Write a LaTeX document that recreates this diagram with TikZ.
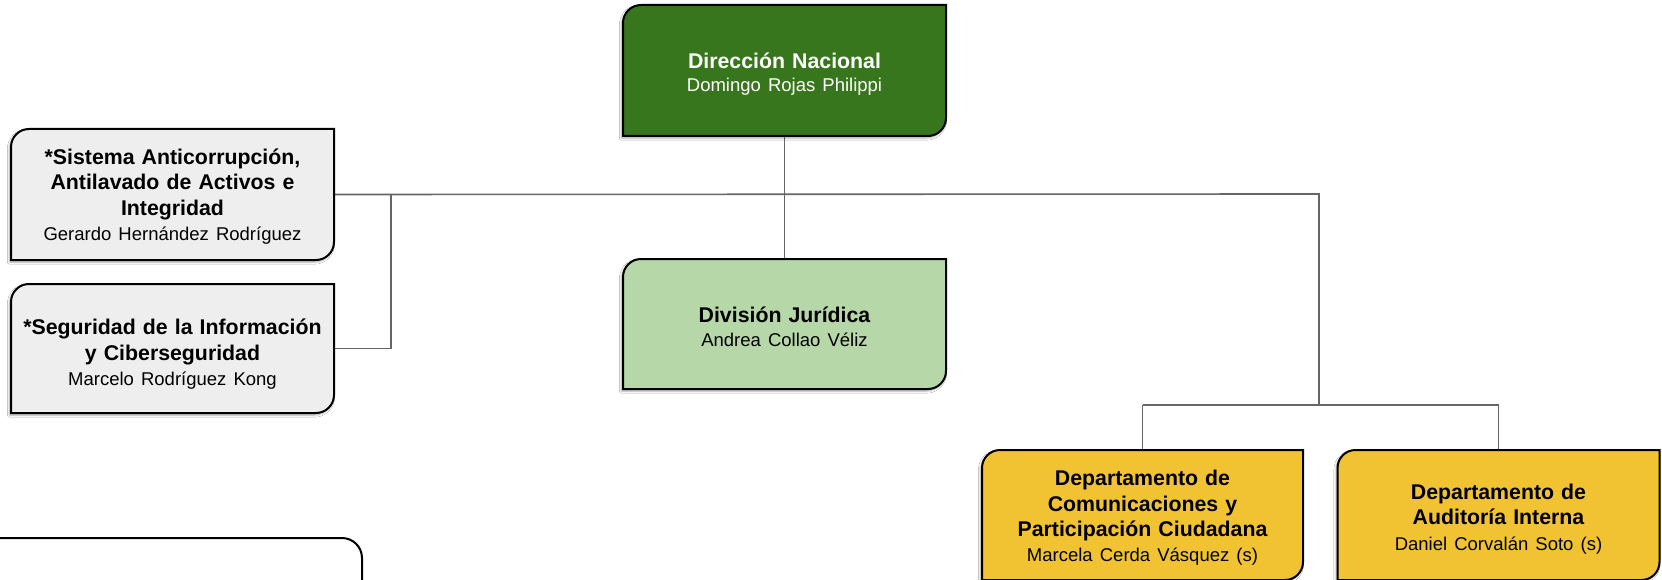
\documentclass[tikz,border=0pt]{standalone}
\usepackage{fontspec}
\setmainfont{Liberation Sans}
\usetikzlibrary{shadows.blur}
\definecolor{dngreen}{HTML}{38761D}
\definecolor{ltgreen}{HTML}{B6D7A8}
\definecolor{ltgrey}{HTML}{EEEEEE}
\definecolor{gold}{HTML}{F1C232}
\definecolor{linegrey}{HTML}{666666}
\newcommand\ttl[1]{{\bfseries #1}}
\newcommand\nme[1]{{\fontsize{18.5}{25}\selectfont #1}}
\newcommand\leafshape[3]{% node name, fill, radius
  \path[draw=black, line width=2pt, fill=#2,
        blur shadow={shadow xshift=-1.5pt, shadow yshift=-2pt, shadow blur steps=6, shadow opacity=35}]
    (#1.south west) -- ([yshift=-#3]#1.north west)
    arc[start angle=180, end angle=90, radius=#3]
    -- (#1.north east) -- ([yshift=#3]#1.south east)
    arc[start angle=0, end angle=-90, radius=#3] -- cycle;}
\begin{document}
\begin{tikzpicture}[x=1pt, y=1pt,
  orgbox/.style={inner sep=0pt, outer sep=0pt, minimum width=323pt, minimum height=130pt,
                 text width=310pt, align=center, font=\fontsize{21.3}{25.4}\selectfont},
  conn/.style={draw=linegrey, line width=1.6pt}]
\useasboundingbox (0,0) rectangle (1662,-580);
\fill[white] (0,0) rectangle (1662,-580);

% node placeholders (text drawn later on top of shapes)
\path
  (784.5,-70.5) node[orgbox, minimum height=131pt] (dn) {}
  (172.5,-194.5) node[orgbox, minimum height=131pt] (sa) {}
  (172.5,-348.5) node[orgbox, minimum height=129pt] (si) {}
  (784.5,-324) node[orgbox] (dj) {}
  (1142.5,-515) node[orgbox, minimum width=321pt] (dc) {}
  (1498.5,-515) node[orgbox, minimum width=322pt] (da) {};

% connectors
\coordinate (jl) at (391,-194);
\coordinate (jr) at (1319,-194);
\coordinate (jb) at (1319,-405);
\coordinate (jbl) at (1142.5,-405);
\coordinate (jbr) at (1498.5,-405);
\draw[conn] (dn.south) -- (dj.north);
\draw[conn] (sa.east) -- (jr) -- (jb);
\draw[conn] (jl) |- (si.east);
\draw[conn] (jbl) -- (jbr);
\draw[conn] (jbl) -- (dc.north);
\draw[conn] (jbr) -- (da.north);

% shapes
\leafshape{dn}{dngreen}{18pt}
\leafshape{sa}{ltgrey}{18pt}
\leafshape{si}{ltgrey}{18pt}
\leafshape{dj}{ltgreen}{18pt}
\leafshape{dc}{gold}{18pt}
\leafshape{da}{gold}{18pt}
\draw[line width=2pt, fill=white, rounded corners=20pt] (-30,-538) rectangle (362,-640);

% texts
\node[orgbox, text=white, font=\fontsize{21.3}{23}\selectfont] (dnt) at ([yshift=-4pt]dn.center) {\ttl{Dirección Nacional}\\\nme{Domingo Rojas Philippi}};
\node[orgbox] (sat) at ([yshift=-2pt]sa.center) {\ttl{*Sistema Anticorrupción,\\Antilavado de Activos e\\Integridad}\\\nme{Gerardo Hernández Rodríguez}};
\node[orgbox] (sit) at ([yshift=-6pt]si.center) {\ttl{*Seguridad de la Información\\y Ciberseguridad}\\\nme{Marcelo Rodríguez Kong}};
\node[orgbox, font=\fontsize{21.3}{23.5}\selectfont] (djt) at ([yshift=-3pt]dj.center) {\ttl{División Jurídica}\\\nme{Andrea Collao Véliz}};
\node[orgbox] (dct) at ([yshift=-3pt]dc.center) {\ttl{Departamento de\\Comunicaciones y\\Participación Ciudadana}\\\nme{Marcela Cerda Vásquez (s)}};
\node[orgbox] (dat) at ([yshift=-4pt]da.center) {\ttl{Departamento de\\Auditoría Interna}\\\nme{Daniel Corvalán Soto (s)}};
\end{tikzpicture}
\end{document}
